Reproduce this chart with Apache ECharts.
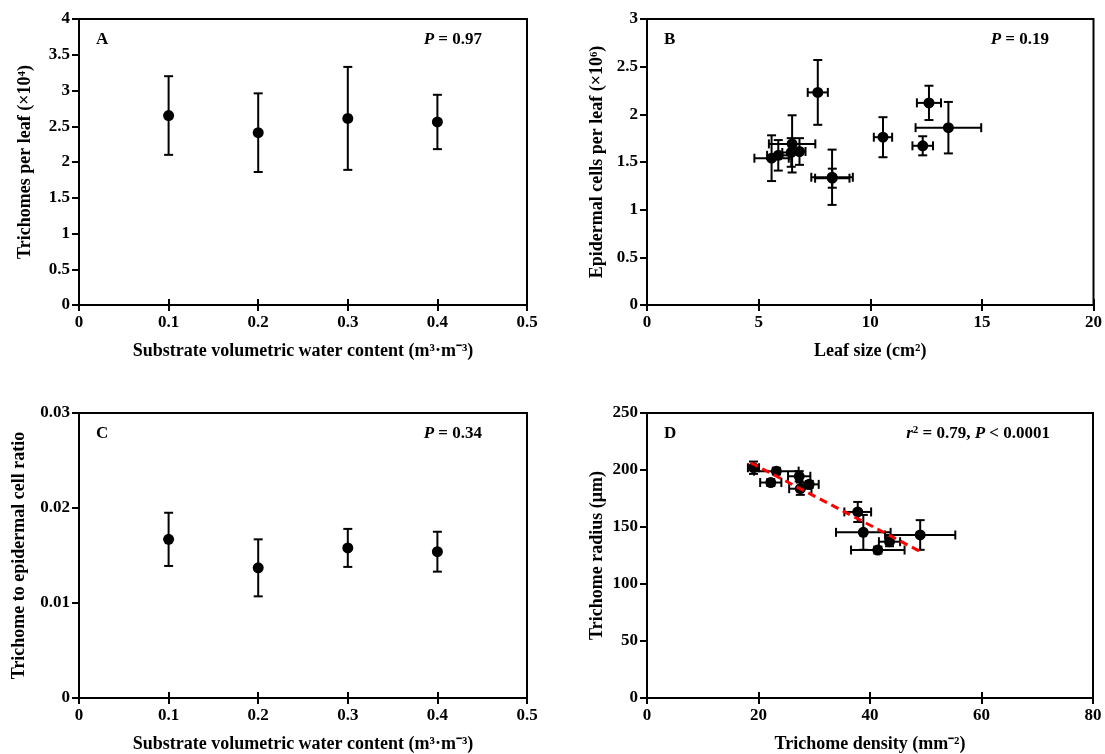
<!DOCTYPE html>
<html><head><meta charset="utf-8">
<script src="https://cdn.jsdelivr.net/npm/echarts@6/dist/echarts.min.js"></script>
<style>html,body{margin:0;padding:0;background:#fff}#c{width:1105px;height:754px}</style>
</head><body><div id="c"></div><script>
// Panel A & C
const waterContent = [0.1, 0.2, 0.3, 0.4];
const trichomesPerLeaf = [2.65, 2.41, 2.61, 2.56];
const trichomesPerLeafErr = [0.55, 0.55, 0.72, 0.38];
const trichomeEpidermalRatio = [0.0167, 0.0137, 0.0158, 0.0154];
const trichomeEpidermalRatioErr = [0.0028, 0.0030, 0.0020, 0.0021];
// Panel B
const leafSize = [7.65, 12.63, 13.50, 10.57, 12.35, 8.29, 8.30, 5.58, 5.88, 6.50, 6.46, 6.83];
const leafSizeErr = [0.45, 0.54, 1.47, 0.41, 0.46, 0.93, 0.77, 0.77, 0.50, 1.04, 0.40, 0.27];
const epidermalCells = [2.23, 2.12, 1.86, 1.76, 1.67, 1.34, 1.33, 1.54, 1.57, 1.69, 1.60, 1.61];
const epidermalCellsErr = [0.34, 0.18, 0.27, 0.21, 0.10, 0.29, 0.10, 0.24, 0.16, 0.30, 0.15, 0.14];
// Panel D
const trichomeDensity = [19.1, 23.2, 22.2, 27.3, 27.5, 29.1, 37.8, 38.8, 43.5, 41.4, 49.0];
const trichomeDensityErr = [1.0, 4.0, 1.9, 2.0, 2.0, 1.7, 2.4, 4.9, 1.9, 4.8, 6.3];
const trichomeRadius = [202, 199, 189, 194.5, 183.6, 187.4, 163.2, 145.3, 137.1, 129.8, 143.0];
const trichomeRadiusErr = [5.4, 3, 3, 4.5, 5.4, 3, 8.8, 15.3, 4, 3, 13];
const trendX = [18.6, 49.3];
const trendY = [206.4, 127.8];
// labels
const panelLetters = ['A', 'B', 'C', 'D'];
const statsText = ['0.97', '0.19', '0.34', ''];

const FONT = '"Liberation Serif", "Times New Roman", serif';
const chart = echarts.init(document.getElementById('c'));

const grids = [
  {left: 79, top: 19, width: 448, height: 286},
  {left: 647, top: 19, width: 448, height: 286},
  {left: 79, top: 413, width: 448, height: 285},
  {left: 647, top: 413, width: 446, height: 285}
];

function zip(xs, ys, xe, ye) {
  return xs.map((x, i) => [x, ys[i], xe ? xe[i] : 0, ye ? ye[i] : 0]);
}

function errRender(params, api) {
  const x = api.value(0), y = api.value(1), xe = api.value(2), ye = api.value(3);
  const cap = 4.5;
  const children = [];
  const st = {stroke: '#000', lineWidth: 2};
  if (ye > 0) {
    const a = api.coord([x, y + ye]), b = api.coord([x, y - ye]);
    children.push({type: 'line', shape: {x1: a[0], y1: a[1], x2: b[0], y2: b[1]}, style: st});
    children.push({type: 'line', shape: {x1: a[0] - cap, y1: a[1], x2: a[0] + cap, y2: a[1]}, style: st});
    children.push({type: 'line', shape: {x1: b[0] - cap, y1: b[1], x2: b[0] + cap, y2: b[1]}, style: st});
  }
  if (xe > 0) {
    const a = api.coord([x - xe, y]), b = api.coord([x + xe, y]);
    children.push({type: 'line', shape: {x1: a[0], y1: a[1], x2: b[0], y2: b[1]}, style: st});
    children.push({type: 'line', shape: {x1: a[0], y1: a[1] - cap, x2: a[0], y2: a[1] + cap}, style: st});
    children.push({type: 'line', shape: {x1: b[0], y1: b[1] - cap, x2: b[0], y2: b[1] + cap}, style: st});
  }
  return {type: 'group', children};
}

const labelStyle = {color: '#000', fontFamily: FONT, fontWeight: 'bold', fontSize: 17};
const nameStyle = {color: '#000', fontFamily: FONT, fontWeight: 'bold', fontSize: 18};

function xAxisDef(gi, min, max, interval, name) {
  return [{
    gridIndex: gi, type: 'value', min, max, interval,
    name, nameLocation: 'middle', nameGap: 37, nameTextStyle: nameStyle,
    axisLine: {show: true, onZero: false, lineStyle: {color: '#000', width: 2}},
    axisTick: {show: true, inside: false, length: 6, lineStyle: {color: '#000', width: 2}},
    axisLabel: Object.assign({margin: 9}, labelStyle),
    splitLine: {show: false}
  }, {
    gridIndex: gi, type: 'value', min, max, interval, position: 'bottom',
    axisLine: {show: false}, axisLabel: {show: false}, splitLine: {show: false},
    axisTick: {show: true, inside: true, length: 6, lineStyle: {color: '#000', width: 2}}
  }];
}
function yAxisDef(gi, min, max, interval, name, gap) {
  return {
    gridIndex: gi, type: 'value', min, max, interval,
    name, nameLocation: 'middle', nameGap: gap, nameTextStyle: nameStyle,
    axisLine: {show: true, onZero: false, lineStyle: {color: '#000', width: 2}},
    axisTick: {show: true, inside: false, length: 7, lineStyle: {color: '#000', width: 2}},
    axisLabel: Object.assign({margin: 9}, labelStyle),
    splitLine: {show: false}
  };
}

const xAxes = [].concat(
  xAxisDef(0, 0, 0.5, 0.1, 'Substrate volumetric water content (m³·m⁻³)'),
  xAxisDef(1, 0, 20, 5, 'Leaf size (cm²)'),
  xAxisDef(2, 0, 0.5, 0.1, 'Substrate volumetric water content (m³·m⁻³)'),
  xAxisDef(3, 0, 80, 20, 'Trichome density (mm⁻²)')
);
const yAxes = [
  yAxisDef(0, 0, 4, 0.5, 'Trichomes per leaf (×10⁴)', 45),
  yAxisDef(1, 0, 3, 0.5, 'Epidermal cells per leaf (×10⁶)', 41),
  yAxisDef(2, 0, 0.03, 0.01, 'Trichome to epidermal cell ratio', 51),
  yAxisDef(3, 0, 250, 50, 'Trichome radius (μm)', 41)
];

const datasets = [
  zip(waterContent, trichomesPerLeaf, null, trichomesPerLeafErr),
  zip(leafSize, epidermalCells, leafSizeErr, epidermalCellsErr),
  zip(waterContent, trichomeEpidermalRatio, null, trichomeEpidermalRatioErr),
  zip(trichomeDensity, trichomeRadius, trichomeDensityErr, trichomeRadiusErr)
];

const series = [];
datasets.forEach((d, i) => {
  series.push({
    type: 'custom', xAxisIndex: i * 2, yAxisIndex: i, data: d,
    renderItem: errRender, encode: {x: 0, y: 1}, z: 2, silent: true
  });
  series.push({
    type: 'scatter', xAxisIndex: i * 2, yAxisIndex: i,
    data: d.map(p => [p[0], p[1]]),
    symbol: 'circle', symbolSize: 11, itemStyle: {color: '#000', opacity: 1}, z: 3, silent: true
  });
});
series.push({
  type: 'line', xAxisIndex: 6, yAxisIndex: 3,
  data: trendX.map((x, i) => [x, trendY[i]]),
  symbol: 'none', lineStyle: {color: '#ff0000', width: 3, type: [8, 5]}, z: 4, silent: true
});

const txt = (left, top, text, align, rich) => ({
  type: 'text', left: align === 'right' ? undefined : left, right: align === 'right' ? left : undefined, top,
  style: {text, fill: '#000', font: 'bold 17px ' + FONT, rich}
});
const rich = {
  i: {fontFamily: FONT, fontStyle: 'italic', fontWeight: 'bold', fontSize: 17, fill: '#000'},
  b: {fontFamily: FONT, fontWeight: 'bold', fontSize: 17, fill: '#000'},
  s: {fontFamily: FONT, fontWeight: 'bold', fontSize: 11, fill: '#000', verticalAlign: 'top', padding: [0, 0, 6, 0]}
};

const graphic = [
  txt(96, 31, panelLetters[0]),
  txt(664, 31, panelLetters[1]),
  txt(96, 425, panelLetters[2]),
  txt(664, 425, panelLetters[3]),
  txt(1105 - 482, 31, '{i|P}{b| = ' + statsText[0] + '}', 'right', rich),
  txt(1105 - 1049, 31, '{i|P}{b| = ' + statsText[1] + '}', 'right', rich),
  txt(1105 - 482, 425, '{i|P}{b| = ' + statsText[2] + '}', 'right', rich),
  txt(1105 - 1050, 425, '{i|r}{s|2}{b| = 0.79, }{i|P}{b| < 0.0001}', 'right', rich)
];

chart.setOption({
  backgroundColor: '#fff',
  animation: false,
  grid: grids.map(g => Object.assign({show: true, borderColor: '#000', borderWidth: 2, backgroundColor: 'transparent'}, g)),
  xAxis: xAxes,
  yAxis: yAxes,
  series,
  graphic
});
</script></body></html>
